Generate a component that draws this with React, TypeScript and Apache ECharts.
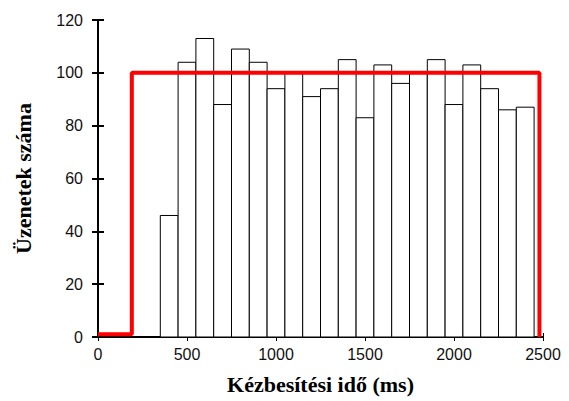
import React, { useEffect, useRef } from "react";
import * as echarts from "echarts";

const binStarts = [350, 450, 550, 650, 750, 850, 950, 1050, 1150, 1250, 1350, 1450, 1550, 1650, 1750, 1850, 1950, 2050, 2150, 2250, 2350];
const binWidth = 100;
const counts = [46, 104, 113, 88, 109, 104, 94, 100, 91, 94, 105, 83, 103, 96, 100, 105, 88, 103, 94, 86, 87];

const redX = [0, 190, 190, 2480, 2480];
const redY = [1, 1, 100, 100, 0];

const xTicks = [0, 500, 1000, 1500, 2000, 2500];
const yTicks = [0, 20, 40, 60, 80, 100, 120];

export default function App() {
  const ref = useRef<HTMLDivElement>(null);
  useEffect(() => {
    if (!ref.current) return;
    const chart = echarts.init(ref.current, null, { renderer: "svg" });
    const barData = binStarts.map((s, i) => [s, s + binWidth, counts[i]]);
    const lineData = redX.map((x, i) => [x, redY[i]]);
    const axisLine = { show: true, lineStyle: { color: "#000", width: 2 } };
    const labelFont = { fontFamily: "Liberation Sans", fontSize: 16, color: "#111" };
    const nameFont = { fontFamily: "Liberation Serif", fontWeight: "bold" as const, fontSize: 22, color: "#000" };
    chart.setOption({
      animation: false,
      backgroundColor: "#fff",
      grid: { left: 98, right: 26, top: 20, bottom: 64 },
      xAxis: [
        {
          type: "value",
          min: xTicks[0],
          max: xTicks[xTicks.length - 1],
          interval: 500,
          axisLine,
          axisTick: { show: true, inside: true, length: 4, lineStyle: { color: "#000", width: 1 } },
          axisLabel: { ...labelFont, margin: 9, formatter: (v: number) => String(v) },
          splitLine: { show: false },
          name: "Kézbesítési idő (ms)",
          nameLocation: "middle",
          nameGap: 36,
          nameTextStyle: nameFont,
        },
        {
          type: "value",
          position: "top",
          min: xTicks[0],
          max: xTicks[xTicks.length - 1],
          interval: 500,
          axisLine,
          axisTick: { show: true, inside: true, length: 4, lineStyle: { color: "#000", width: 1 } },
          axisLabel: { show: false },
          splitLine: { show: false },
        },
      ],
      yAxis: [
        {
          type: "value",
          min: yTicks[0],
          max: yTicks[yTicks.length - 1],
          interval: 20,
          axisLine,
          axisTick: { show: true, inside: true, length: 6, lineStyle: { color: "#000", width: 2 } },
          axisLabel: { ...labelFont, margin: 15, formatter: (v: number) => String(v) },
          splitLine: { show: false },
          name: "Üzenetek száma",
          nameLocation: "middle",
          nameGap: 64,
          nameTextStyle: nameFont,
        },
        {
          type: "value",
          position: "right",
          min: yTicks[0],
          max: yTicks[yTicks.length - 1],
          interval: 20,
          axisLine,
          axisTick: { show: true, inside: true, length: 6, lineStyle: { color: "#000", width: 2 } },
          axisLabel: { show: false },
          splitLine: { show: false },
        },
      ],
      series: [
        {
          type: "custom",
          xAxisIndex: 0,
          yAxisIndex: 0,
          data: barData,
          renderItem: (params: any, api: any) => {
            const s = api.coord([api.value(0), 0]);
            const e = api.coord([api.value(1), api.value(2)]);
            return {
              type: "rect",
              shape: { x: s[0], y: e[1], width: e[0] - s[0], height: s[1] - e[1] },
              style: { fill: "#fff", stroke: "#000", lineWidth: 1 },
            };
          },
          z: 2,
        },
        {
          type: "line",
          xAxisIndex: 0,
          yAxisIndex: 0,
          data: lineData,
          showSymbol: false,
          symbol: "none",
          lineStyle: { color: "#ff0000", width: 4 },
          z: 3,
        },
      ],
    });
    return () => chart.dispose();
  }, []);
  return <div ref={ref} style={{ width: 569, height: 401, marginLeft: -8, marginTop: -8 }} />;
}
